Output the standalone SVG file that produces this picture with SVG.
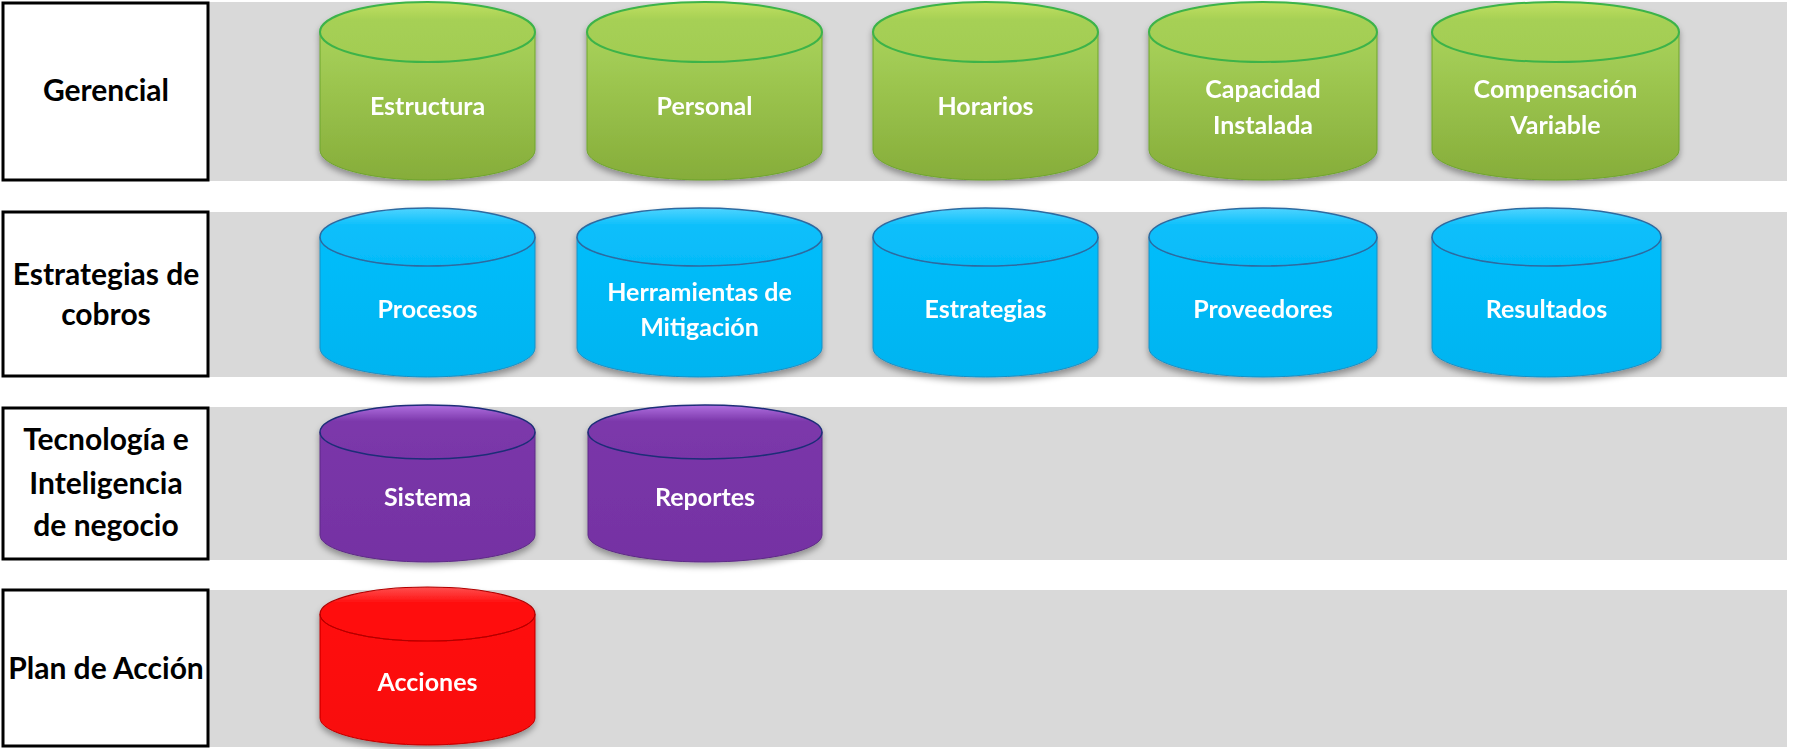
<svg xmlns="http://www.w3.org/2000/svg" width="1793" height="749" viewBox="0 0 1793 749">
<style>
.band{fill:#d9d9d9}
.lbl{fill:#fff;stroke:#000;stroke-width:3}
.lt{font-family:Lato,"Liberation Sans",sans-serif;font-weight:bold;font-size:30px;fill:#000;text-anchor:middle}
.ct{font-family:Lato,"Liberation Sans",sans-serif;font-weight:bold;font-size:25px;fill:#fff;text-anchor:middle}
.g .body{fill:url(#gGreen);stroke:#6fa52e;stroke-width:1}
.g .top{fill:url(#gGreenTop);stroke:#3cb34a;stroke-width:2}
.b .body{fill:url(#gBlue);stroke:#1a8fc4;stroke-width:1}
.b .top{fill:url(#gBlueTop);stroke:#2d6aa0;stroke-width:1.5}
.p .body{fill:url(#gPurple);stroke:#5d2a85;stroke-width:1}
.p .top{fill:url(#gPurpleTop);stroke:#1d2d78;stroke-width:1.5}
.r .body{fill:url(#gRed);stroke:#c00000;stroke-width:1}
.r .top{fill:url(#gRedTop);stroke:#b00000;stroke-width:1.2}
.cyl{filter:url(#sh)}
</style>
<defs>
<filter id="sh" x="-10%" y="-10%" width="120%" height="130%">
<feDropShadow dx="0" dy="4" stdDeviation="3" flood-color="#000" flood-opacity="0.35"/>
</filter>
<linearGradient id="gGreen" x1="0" y1="0" x2="0" y2="1"><stop offset="0" stop-color="#a8d25a"/><stop offset="1" stop-color="#86ad3a"/></linearGradient>
<linearGradient id="gGreenTop" x1="0" y1="0" x2="0" y2="1"><stop offset="0" stop-color="#c0e060"/><stop offset="0.3" stop-color="#a6d055"/><stop offset="1" stop-color="#a2cc52"/></linearGradient>
<linearGradient id="gBlue" x1="0" y1="0" x2="0" y2="1"><stop offset="0" stop-color="#06bdfb"/><stop offset="1" stop-color="#04b4f0"/></linearGradient>
<linearGradient id="gBlueTop" x1="0" y1="0" x2="0" y2="1"><stop offset="0" stop-color="#4fd4ff"/><stop offset="0.3" stop-color="#0cbffb"/><stop offset="1" stop-color="#05bbf9"/></linearGradient>
<linearGradient id="gPurple" x1="0" y1="0" x2="0" y2="1"><stop offset="0" stop-color="#7a36a9"/><stop offset="1" stop-color="#7532a3"/></linearGradient>
<linearGradient id="gPurpleTop" x1="0" y1="0" x2="0" y2="1"><stop offset="0" stop-color="#b070e0"/><stop offset="0.3" stop-color="#7c38ab"/><stop offset="1" stop-color="#7936a8"/></linearGradient>
<linearGradient id="gRed" x1="0" y1="0" x2="0" y2="1"><stop offset="0" stop-color="#ff0a0a"/><stop offset="1" stop-color="#f80808"/></linearGradient>
<linearGradient id="gRedTop" x1="0" y1="0" x2="0" y2="1"><stop offset="0" stop-color="#ff5050"/><stop offset="0.3" stop-color="#ff0d0d"/><stop offset="1" stop-color="#ff0a0a"/></linearGradient>
</defs>
<rect width="1793" height="749" fill="#fff"/>
<g id="bands">
<rect class="band" x="209" y="2" width="1578" height="179"/>
<rect class="band" x="209" y="212" width="1578" height="165"/>
<rect class="band" x="209" y="407" width="1578" height="153"/>
<rect class="band" x="209" y="590" width="1578" height="157"/>
</g>
<g id="lbl-gerencial"><rect class="lbl" x="3" y="3" width="205" height="177"/><text class="lt" x="106" y="101">Gerencial</text></g>
<g id="lbl-estrategias"><rect class="lbl" x="3" y="212" width="205" height="164"/><text class="lt" x="106" y="285">Estrategias de</text><text class="lt" x="106" y="325">cobros</text></g>
<g id="lbl-tecnologia"><rect class="lbl" x="3" y="408" width="205" height="151"/><text class="lt" x="106" y="450">Tecnología e</text><text class="lt" x="106" y="494">Inteligencia</text><text class="lt" x="106" y="536">de negocio</text></g>
<g id="lbl-plan"><rect class="lbl" x="3" y="590" width="205" height="156"/><text class="lt" x="106" y="679">Plan de Acción</text></g>

<g id="n-estructura" class="cyl g"><path class="body" d="M320 32V150A107.5 30 0 0 0 535 150V32Z"/><ellipse class="top" cx="427.5" cy="32" rx="107.5" ry="30"/><text class="ct" x="427.5" y="115">Estructura</text></g>
<g id="n-personal" class="cyl g"><path class="body" d="M587 32V150A117.5 30 0 0 0 822 150V32Z"/><ellipse class="top" cx="704.5" cy="32" rx="117.5" ry="30"/><text class="ct" x="704.5" y="115">Personal</text></g>
<g id="n-horarios" class="cyl g"><path class="body" d="M873 32V150A112.5 30 0 0 0 1098 150V32Z"/><ellipse class="top" cx="985.5" cy="32" rx="112.5" ry="30"/><text class="ct" x="985.5" y="115">Horarios</text></g>
<g id="n-capacidad" class="cyl g"><path class="body" d="M1149 32V150A114 30 0 0 0 1377 150V32Z"/><ellipse class="top" cx="1263" cy="32" rx="114" ry="30"/><text class="ct" x="1263" y="98">Capacidad</text><text class="ct" x="1263" y="134">Instalada</text></g>
<g id="n-compensacion" class="cyl g"><path class="body" d="M1432 32V150A123.5 30 0 0 0 1679 150V32Z"/><ellipse class="top" cx="1555.5" cy="32" rx="123.5" ry="30"/><text class="ct" x="1555.5" y="98">Compensación</text><text class="ct" x="1555.5" y="134">Variable</text></g>

<g id="n-procesos" class="cyl b"><path class="body" d="M320 237V348A107.5 29 0 0 0 535 348V237Z"/><ellipse class="top" cx="427.5" cy="237" rx="107.5" ry="29"/><text class="ct" x="427.5" y="318">Procesos</text></g>
<g id="n-herramientas" class="cyl b"><path class="body" d="M577 237V348A122.5 29 0 0 0 822 348V237Z"/><ellipse class="top" cx="699.5" cy="237" rx="122.5" ry="29"/><text class="ct" x="699.5" y="301">Herramientas de</text><text class="ct" x="699.5" y="336">Mitigación</text></g>
<g id="n-estrategias" class="cyl b"><path class="body" d="M873 237V348A112.5 29 0 0 0 1098 348V237Z"/><ellipse class="top" cx="985.5" cy="237" rx="112.5" ry="29"/><text class="ct" x="985.5" y="318">Estrategias</text></g>
<g id="n-proveedores" class="cyl b"><path class="body" d="M1149 237V348A114 29 0 0 0 1377 348V237Z"/><ellipse class="top" cx="1263" cy="237" rx="114" ry="29"/><text class="ct" x="1263" y="318">Proveedores</text></g>
<g id="n-resultados" class="cyl b"><path class="body" d="M1432 237V348A114.5 29 0 0 0 1661 348V237Z"/><ellipse class="top" cx="1546.5" cy="237" rx="114.5" ry="29"/><text class="ct" x="1546.5" y="318">Resultados</text></g>

<g id="n-sistema" class="cyl p"><path class="body" d="M320 432V535A107.5 27 0 0 0 535 535V432Z"/><ellipse class="top" cx="427.5" cy="432" rx="107.5" ry="27"/><text class="ct" x="427.5" y="506">Sistema</text></g>
<g id="n-reportes" class="cyl p"><path class="body" d="M588 432V535A117 27 0 0 0 822 535V432Z"/><ellipse class="top" cx="705" cy="432" rx="117" ry="27"/><text class="ct" x="705" y="506">Reportes</text></g>

<g id="n-acciones" class="cyl r"><path class="body" d="M320 614V718A107.5 27 0 0 0 535 718V614Z"/><ellipse class="top" cx="427.5" cy="614" rx="107.5" ry="27"/><text class="ct" x="427.5" y="691">Acciones</text></g>
<g id="connectors"></g>
</svg>
